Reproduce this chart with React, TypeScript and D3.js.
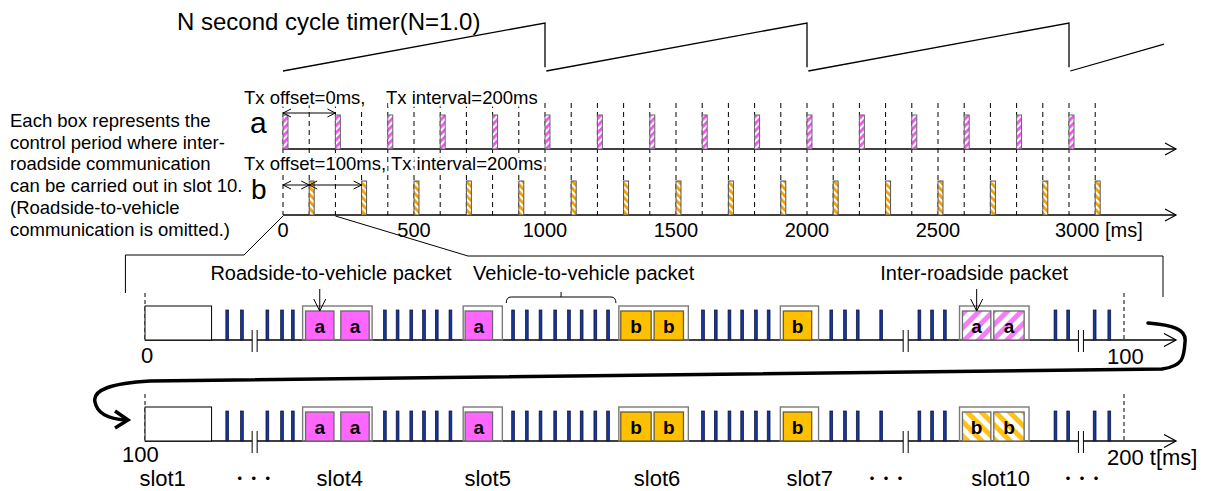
import React from 'react';
import * as d3 from 'd3';

// ---------- data (top timeline, ms) ----------
const TOP_TICKS = [0, 500, 1000, 1500, 2000, 2500, 3000];
const TX_A_MS = [0, 200, 400, 600, 800, 1000, 1200, 1400, 1600, 1800, 2000, 2200, 2400, 2600, 2800, 3000];
const TX_B_MS = [100, 300, 500, 700, 900, 1100, 1300, 1500, 1700, 1900, 2100, 2300, 2500, 2700, 2900, 3100];
const GRID_MS = [0, 100, 200, 300, 400, 500, 600, 700, 800, 900, 1000, 1100, 1200, 1300, 1400, 1500, 1600,
  1700, 1800, 1900, 2000, 2100, 2200, 2300, 2400, 2500, 2600, 2700, 2800, 2900, 3000, 3100];
const TX_BOX_MS = 19;
// timer value (0..1) vs time (ms)
const TIMER_SEGMENTS: number[][][] = [
  [[0, 0], [1000, 1], [1000, 0.08]],
  [[1005, 0], [2000, 1], [2000, 0.08]],
  [[2005, 0], [3000, 1], [3000, 0.08]],
  [[3005, 0], [3363, 0.56]],
];

// ---------- data (zoomed rows, position within a 100 ms frame) ----------
const SLOT1_BOX = [0, 6.8];
const GROUP_BOXES = [[16.1, 23.2], [32.5, 36.5], [48.4, 55.5], [64.9, 68.8], [83.2, 90.3]];
const VV_BARS = [8.4, 9.9, 12.5, 14.0, 15.1, 24.5, 25.8, 27.2, 28.5, 29.8, 31.2, 37.6, 39.0, 40.4, 41.9, 43.3,
  44.6, 46.0, 47.3, 57.0, 58.3, 59.7, 61.0, 62.4, 63.7, 70.1, 71.5, 72.8, 75.2, 79.1, 80.4, 81.7, 93.0, 94.3,
  97.0, 98.5];
const BREAKS = [11.2, 77.7, 95.6];
type Packet = [number, number, string, string];
const ROW1_PACKETS: Packet[] = [
  [16.4, 19.3, 'a', 'solidA'], [20.0, 22.9, 'a', 'solidA'], [32.7, 35.5, 'a', 'solidA'],
  [48.6, 51.7, 'b', 'solidB'], [52.0, 55.0, 'b', 'solidB'], [65.2, 68.1, 'b', 'solidB'],
  [83.5, 86.4, 'a', 'hatchA'], [86.7, 89.8, 'a', 'hatchA'],
];
const ROW2_PACKETS: Packet[] = [
  [16.4, 19.3, 'a', 'solidA'], [20.0, 22.9, 'a', 'solidA'], [32.7, 35.5, 'a', 'solidA'],
  [48.6, 51.7, 'b', 'solidB'], [52.0, 55.0, 'b', 'solidB'], [65.2, 68.1, 'b', 'solidB'],
  [83.5, 86.4, 'b', 'hatchB'], [86.7, 89.8, 'b', 'hatchB'],
];
const SLOT_LABELS = ['slot1', '・・・', 'slot4', 'slot5', 'slot6', 'slot7', '・・・', 'slot10', '・・・'];
const SLOT_LABEL_POS = [1.8, 11.1, 19.9, 35.0, 52.3, 67.9, 75.7, 87.4, 95.7];
const LEFT_NOTE = [
  'Each box represents the',
  'control period where inter-',
  'roadside communication',
  'can be carried out in slot 10.',
  '(Roadside-to-vehicle',
  'communication is omitted.)',
];

const FONT = "'Liberation Sans', Arial, Helvetica, sans-serif";
const PINK = '#FF66FF';
const ORANGE = '#FFC000';
const NAVY = '#16369a';

function openHead(x: number, y: number, dir: 'r' | 'l' | 'd', len = 10, half = 5, sw = 1.2, key?: string) {
  let d = '';
  if (dir === 'r') d = `M${x - len},${y - half}L${x},${y}L${x - len},${y + half}`;
  if (dir === 'l') d = `M${x + len},${y - half}L${x},${y}L${x + len},${y + half}`;
  if (dir === 'd') d = `M${x - half},${y - len}L${x},${y}L${x + half},${y - len}`;
  return <path key={key} d={d} fill="none" stroke="#000" strokeWidth={sw} />;
}

function DoubleArrow({ x1, x2, y }: { x1: number; x2: number; y: number }) {
  return (
    <g>
      <line x1={x1} x2={x2} y1={y} y2={y} stroke="#000" strokeWidth={1} />
      {openHead(x1, y, 'l', 8, 4, 1)}
      {openHead(x2, y, 'r', 8, 4, 1)}
    </g>
  );
}

function LowerRow({ axisY, packets, startLabel, endLabel, startX, startY, startAnchor, showPointers }:
  { axisY: number; packets: Packet[]; startLabel: string; endLabel: string; startX: number; startY: number; startAnchor: string; showPointers: boolean }) {
  const x = d3.scaleLinear().domain([0, 100]).range([145, 1124]);
  const fills: Record<string, string> = { solidA: PINK, solidB: ORANGE, hatchA: 'url(#hatchA)', hatchB: 'url(#hatchB)' };
  return (
    <g>
      {[0, 100].map(v => (
        <line key={v} x1={x(v)} x2={x(v)} y1={axisY - 47} y2={axisY} stroke="#000" strokeWidth={1} strokeDasharray="4 3" />
      ))}
      <line x1={x(0)} x2={1176} y1={axisY} y2={axisY} stroke="#000" strokeWidth={1.3} />
      {openHead(1176, axisY, 'r', 12, 6.5, 1.3)}
      <rect x={x(SLOT1_BOX[0])} y={axisY - 34} width={x(SLOT1_BOX[1]) - x(SLOT1_BOX[0])} height={34} fill="#fff" stroke="#000" strokeWidth={1} />
      {GROUP_BOXES.map((g, i) => (
        <rect key={i} x={x(g[0])} y={axisY - 34} width={x(g[1]) - x(g[0])} height={34} fill="none" stroke="#7a7a7a" strokeWidth={1.4} />
      ))}
      {VV_BARS.map((b, i) => (
        <rect key={i} x={x(b) - 1.4} y={axisY - 30} width={2.8} height={30} fill={NAVY} stroke="#0a0f35" strokeWidth={0.7} />
      ))}
      {packets.map((p, i) => (
        <g key={i}>
          <rect x={x(p[0])} y={axisY - 29} width={x(p[1]) - x(p[0])} height={29} fill={fills[p[3]]}
            stroke={p[3] === 'solidB' ? '#6b5a2a' : '#6a6a6a'} strokeWidth={1.3} />
          <text x={(x(p[0]) + x(p[1])) / 2} y={axisY - 7} textAnchor="middle" fontFamily={FONT} fontWeight="bold" fontSize={19} fill="#000">{p[2]}</text>
        </g>
      ))}
      {BREAKS.map((b, i) => (
        <g key={i}>
          <rect x={x(b) - 2.5} y={axisY - 3} width={5} height={6} fill="#fff" />
          <line x1={x(b) - 2.5} x2={x(b) - 2.5} y1={axisY - 10} y2={axisY + 12} stroke="#000" strokeWidth={1} />
          <line x1={x(b) + 2.5} x2={x(b) + 2.5} y1={axisY - 10} y2={axisY + 12} stroke="#000" strokeWidth={1} />
        </g>
      ))}
      {showPointers && [packets[0], packets[6]].map((p, i) => {
        const cx = (x(p[0]) + x(p[1])) / 2;
        return (
          <g key={i}>
            <line x1={cx} x2={cx} y1={axisY - 51} y2={axisY - 29} stroke="#000" strokeWidth={1} />
            {openHead(cx, axisY - 29, 'd', 12, 6, 1)}
          </g>
        );
      })}
      <text x={startX} y={startY} textAnchor={startAnchor} fontFamily={FONT} fontSize={22}>{startLabel}</text>
      <text x={1107} y={axisY + 24} fontFamily={FONT} fontSize={22}>{endLabel}</text>
    </g>
  );
}

export default function App() {
  const xTop = d3.scaleLinear().domain([0, 3000]).range([283, 1069]);
  const yTimer = d3.scaleLinear().domain([0, 1]).range([71, 23]);
  const timerLine = d3.line<number[]>().x(d => xTop(d[0])).y(d => yTimer(d[1]));
  const xLow = d3.scaleLinear().domain([0, 100]).range([145, 1124]);
  const A_Y = 149;
  const B_Y = 215;
  const BOX_H = 34;
  const ROW1_Y = 340;
  const ROW2_Y = 441;

  return (
    <svg width={1211} height={491} style={{ position: 'absolute', left: 0, top: 0, background: '#fff' }}
      fontFamily={FONT}>
      <defs>
        <pattern id="hatchA" patternUnits="userSpaceOnUse" width={10} height={10} patternTransform="rotate(45)">
          <rect width={10} height={10} fill="#fff" />
          <rect width={5} height={10} fill="#F77CF7" />
        </pattern>
        <pattern id="hatchB" patternUnits="userSpaceOnUse" width={10} height={10} patternTransform="rotate(-45)">
          <rect width={10} height={10} fill="#fff" />
          <rect width={5} height={10} fill="#FFC21A" />
        </pattern>
        <pattern id="hatchAs" patternUnits="userSpaceOnUse" width={5} height={5} patternTransform="rotate(45)">
          <rect width={5} height={5} fill="#fff" />
          <rect width={2.8} height={5} fill="#EE55EE" />
        </pattern>
        <pattern id="hatchBs" patternUnits="userSpaceOnUse" width={5} height={5} patternTransform="rotate(-45)">
          <rect width={5} height={5} fill="#fff" />
          <rect width={2.8} height={5} fill="#F5A000" />
        </pattern>
      </defs>

      <text x={177} y={30} fontSize={24}>N second cycle timer(N=1.0)</text>
      {TIMER_SEGMENTS.map((s, i) => (
        <path key={i} d={timerLine(s) || ''} fill="none" stroke="#000" strokeWidth={1.3} />
      ))}

      {LEFT_NOTE.map((t, i) => (
        <text key={i} x={10} y={127 + i * 21.7} fontSize={18.5}>{t}</text>
      ))}

      {GRID_MS.map(t => (
        <line key={t} x1={xTop(t)} x2={xTop(t)} y1={103} y2={B_Y} stroke="#000" strokeWidth={1} strokeDasharray="5 4" />
      ))}

      {/* row a */}
      <text x={244} y={104} fontSize={18.5} stroke="#fff" strokeWidth={5} paintOrder="stroke" fill="#000">Tx offset=0ms,</text>
      <text x={386} y={104} fontSize={18.5} stroke="#fff" strokeWidth={5} paintOrder="stroke" fill="#000">Tx interval=200ms</text>
      <text x={250} y={133} fontSize={30}>a</text>
      <line x1={xTop(0)} x2={1176} y1={A_Y} y2={A_Y} stroke="#000" strokeWidth={1.3} />
      {openHead(1176, A_Y, 'r', 11, 6, 1.2)}
      {TX_A_MS.map(t => (
        <rect key={t} x={xTop(t)} y={A_Y - BOX_H} width={xTop(TX_BOX_MS) - xTop(0)} height={BOX_H}
          fill="url(#hatchAs)" stroke="#666" strokeWidth={1} />
      ))}
      <DoubleArrow x1={xTop(0)} x2={xTop(200)} y={113} />

      {/* row b */}
      <text x={244} y={170} fontSize={18.5} stroke="#fff" strokeWidth={5} paintOrder="stroke" fill="#000">Tx offset=100ms, Tx interval=200ms</text>
      <text x={251} y={199} fontSize={28}>b</text>
      <line x1={xTop(0)} x2={1176} y1={B_Y} y2={B_Y} stroke="#000" strokeWidth={1.3} />
      {openHead(1176, B_Y, 'r', 11, 6, 1.2)}
      {TX_B_MS.map(t => (
        <rect key={t} x={xTop(t)} y={B_Y - BOX_H} width={xTop(TX_BOX_MS) - xTop(0)} height={BOX_H}
          fill="url(#hatchBs)" stroke="#555" strokeWidth={1} />
      ))}
      <DoubleArrow x1={xTop(0)} x2={xTop(100)} y={185} />
      <DoubleArrow x1={xTop(100)} x2={xTop(300)} y={185} />

      {TOP_TICKS.map(t => (
        t === 3000
          ? <text key={t} x={xTop(t) - 14} y={237} fontSize={20}>3000 [ms]</text>
          : <text key={t} x={xTop(t)} y={237} fontSize={20} textAnchor="middle">{t}</text>
      ))}

      <path d={`M${xTop(0)},${B_Y + 1}L244,255L${xLow(-2)},255L${xLow(-2)},293`} fill="none" stroke="#000" strokeWidth={1} />
      <path d={`M${xTop(200)},${B_Y + 1}L468,256L1163,256L1163,297`} fill="none" stroke="#000" strokeWidth={1} />

      <text x={xLow(19.0)} y={280} fontSize={20} textAnchor="middle">Roadside-to-vehicle packet</text>
      <text x={473} y={280} fontSize={20}>Vehicle-to-vehicle packet</text>
      <text x={xLow(84.7)} y={280} fontSize={20} textAnchor="middle">Inter-roadside packet</text>
      <path d={`M${xLow(36.9)},303Q${xLow(36.9)},297 ${xLow(37.4)},297L${xLow(47.6)},297Q${xLow(48.1)},297 ${xLow(48.1)},303`}
        fill="none" stroke="#000" strokeWidth={1} />
      <line x1={xLow(42.5)} x2={xLow(42.5)} y1={297} y2={292} stroke="#000" strokeWidth={1} />

      <LowerRow axisY={ROW1_Y} packets={ROW1_PACKETS} startLabel="0" endLabel="100" startX={147} startY={363} startAnchor="middle" showPointers={true} />
      <LowerRow axisY={ROW2_Y} packets={ROW2_PACKETS} startLabel="100" endLabel="200 t[ms]" startX={122} startY={462} startAnchor="start" showPointers={false} />

      <path d="M1148,323C1172,325 1187,329 1185,342C1184,358 1183,366 1162,369L150,381C112,383 92,390 95,402C97,413 108,419 126,420"
        fill="none" stroke="#000" strokeWidth={3.5} strokeLinecap="round" />
      <path d="M115,411L128,420L115,428" fill="none" stroke="#000" strokeWidth={3.5} strokeLinejoin="miter" />

      {SLOT_LABELS.map((s, i) => (
        s.startsWith('slot')
          ? <text key={i} x={xLow(SLOT_LABEL_POS[i])} y={486} fontSize={22} textAnchor="middle">{s}</text>
          : <text key={i} x={xLow(SLOT_LABEL_POS[i])} y={483} fontSize={14} fontWeight="bold" textAnchor="middle"
            fontFamily="'Noto Sans CJK JP', sans-serif">{s}</text>
      ))}
    </svg>
  );
}
